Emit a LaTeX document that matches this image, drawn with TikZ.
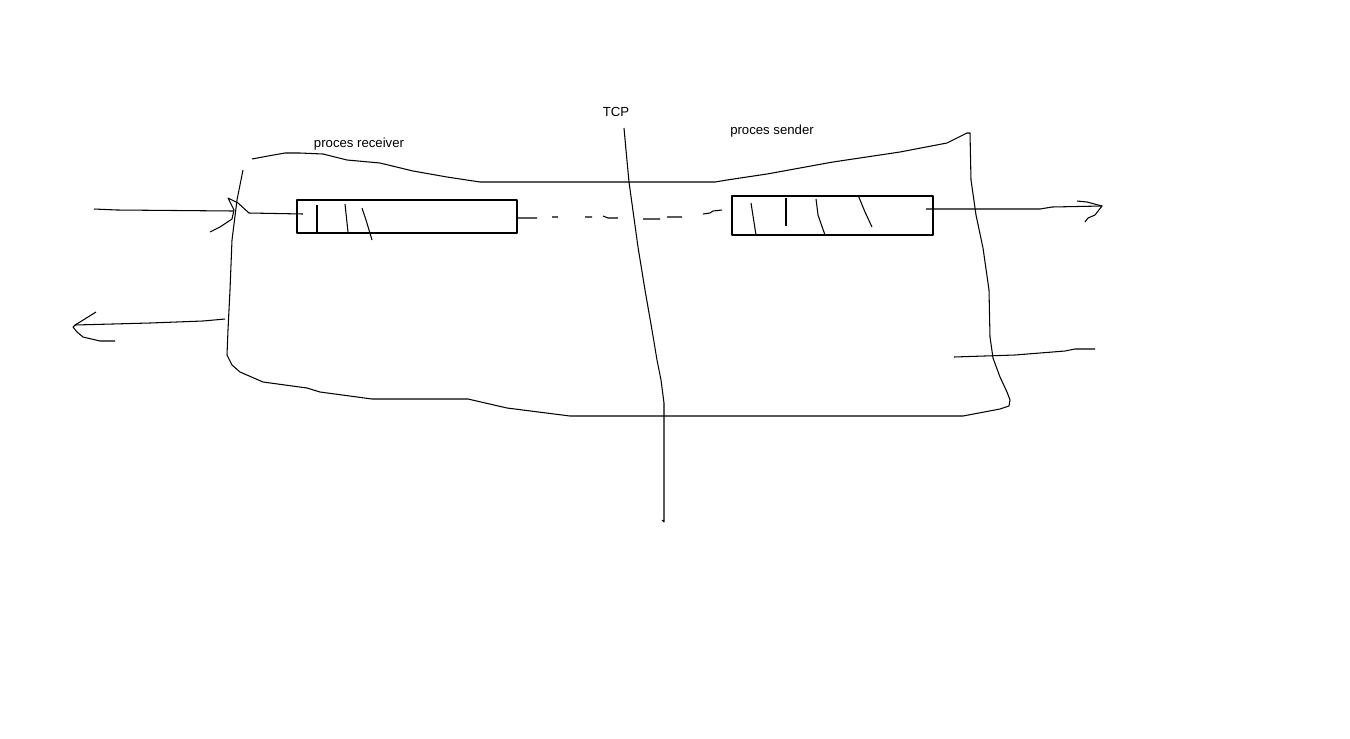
\documentclass[tikz,border=0pt]{standalone}
\usepackage{fontspec}
\setmainfont{Liberation Sans}
\begin{document}
\begin{tikzpicture}[x=0.02cm, y=-0.02cm, line width=0.6pt, line join=round]
    \definecolor{inkColour}{HTML}{000000}
    \tikzset{sketch/.style={draw=inkColour},
             caption/.style={font=\fontsize{7.5}{9}\selectfont, inner sep=0pt, text=inkColour}}

    \useasboundingbox (0,0) rectangle (1350,738);

    % Labels
    \node[caption] (tcpLabel) at (616,112) {TCP};
    \node[caption] (receiverLabel) at (359,144) {proces receiver};
    \node[caption] (senderLabel) at (772,131) {proces sender};

    % Outer boundary
    \draw[sketch] (252,159) -- (268,156) -- (285,153) -- (300,153) -- (323,154) -- (347,160) -- (380,163)
        -- (413,171) -- (447,177) -- (480,182) -- (715,182) -- (727,180) -- (767,174) -- (833,162)
        -- (900,152) -- (947,143) -- (967,133) -- (970,133) -- (971,180) -- (976,215) -- (983,248)
        -- (989,290) -- (990,337) -- (993,358) -- (1000,377) -- (1007,392) -- (1010,400) -- (1009,406)
        -- (1000,409) -- (963,416) -- (570,416) -- (507,408) -- (468,399) -- (372,399) -- (320,392)
        -- (307,388) -- (263,382) -- (240,372) -- (232,365) -- (227,355) -- (228,330) -- (230,290)
        -- (232,240) -- (237,200) -- (243,170);

    % TCP divider
    \coordinate (tcpTop) at (624,128);
    \coordinate (tcpEnd) at (664,522);
    \draw[sketch] (tcpTop) -- (626,150) -- (629,182) -- (638,247) -- (645,290) -- (652,330) -- (657,360)
        -- (661,380) -- (664,403) -- (tcpEnd) -- (662,520);

    % Receiver buffer
    \coordinate (R1) at (297,200);
    \coordinate (R2) at (517,233);
    \draw[sketch] (R1) rectangle (R2);
    \draw[sketch] (317,205) -- (317,233);
    \draw[sketch] (345,204) -- (348,232);
    \draw[sketch] (362,208) -- (366,220) -- (372,240);

    % Sender buffer
    \coordinate (S1) at (732,196);
    \coordinate (S2) at (933,235);
    \draw[sketch] (S1) rectangle (S2);
    \draw[sketch] (751,203) -- (756,235);
    \draw[sketch] (786,198) -- (786,226);
    \draw[sketch] (816,199) -- (818,215) -- (825,235);
    \draw[sketch] (858,195) -- (865,212) -- (872,227);

    % Incoming data into receiver
    \coordinate (inStart) at (94,209);
    \coordinate (inTip) at (249,213);
    \coordinate (inEnd) at (303,214);
    \draw[sketch] (inStart) -- (117,210) -- (233,211);
    \draw[sketch] (210,232) -- (220,227) -- (232,219) -- (234,210) -- (228,198) -- (238,203) -- (inTip);
    \draw[sketch] (inTip) -- (inEnd);

    % Link between buffers
    \coordinate (linkStart) at (517,218);
    \coordinate (linkEnd) at (722,210);
    \draw[sketch] (linkStart) -- (537,218)
        (552,217) -- (558,217)
        (585,217) -- (592,217)
        (603,216) -- (608,218) -- (618,218)
        (643,219) -- (660,219)
        (667,217) -- (682,217)
        (703,214) -- (710,213) -- (713,211) -- (linkEnd);

    % Outgoing data from sender
    \coordinate (outStart) at (926,209);
    \coordinate (outTip) at (1102,206);
    \draw[sketch] (outStart) -- (1040,209) -- (1052,207) -- (outTip);
    \draw[sketch] (1077,201) -- (1087,202) -- (outTip) -- (1095,215) -- (1088,218) -- (1085,222);

    % Reply leaving on the left
    \coordinate (backStart) at (225,319);
    \coordinate (backTip) at (75,325);
    \draw[sketch] (backStart) -- (203,321) -- (150,323) -- (backTip);
    \draw[sketch] (96,312) -- (80,322) -- (backTip) -- (73,327) -- (77,332) -- (83,337) -- (100,341) -- (115,341);

    % Reply entering on the right
    \coordinate (ackStart) at (1095,349);
    \coordinate (ackEnd) at (954,357);
    \draw[sketch] (ackStart) -- (1075,349) -- (1065,351) -- (1040,353) -- (1015,355) -- (ackEnd);

\end{tikzpicture}
\end{document}
